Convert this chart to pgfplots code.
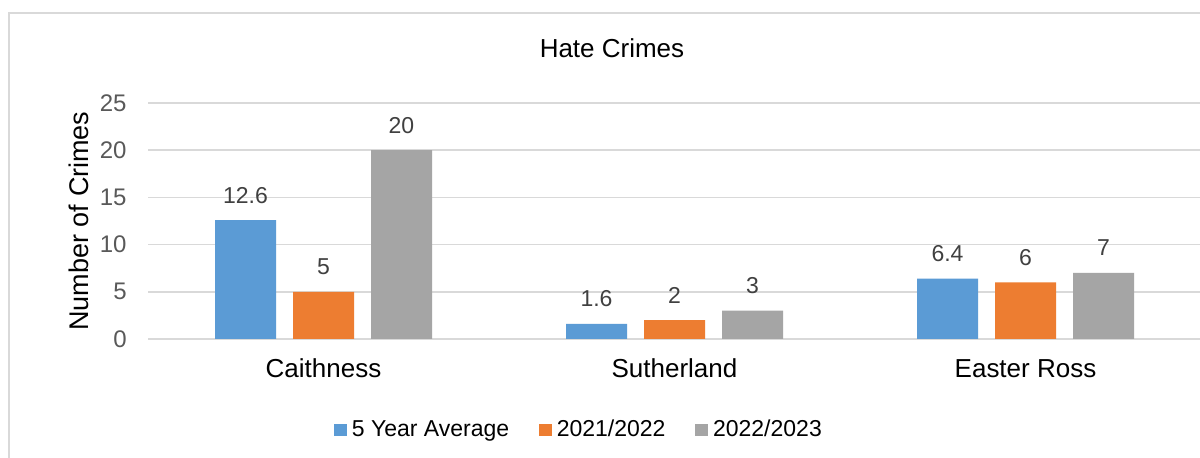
\documentclass[border=0pt]{standalone}
\usepackage{pgfplots}
\pgfplotsset{compat=1.18}
\usepackage{fontspec}
\setmainfont{Liberation Sans}

\definecolor{avgc}{HTML}{5B9BD5}
\definecolor{yrone}{HTML}{ED7D31}
\definecolor{yrtwo}{HTML}{A5A5A5}
\definecolor{gridc}{HTML}{D9D9D9}
\definecolor{tickc}{HTML}{595959}
\definecolor{labc}{HTML}{404040}

% square legend marker
\pgfplotsset{sqlegend/.style={legend image code/.code={\fill[##1] (0pt,-3.15pt) rectangle (6.3pt,3.15pt);}}}

\begin{document}
\begin{tikzpicture}[x=1pt,y=1pt]
  % white page and the chart frame (cut off at right and bottom)
  \fill[white] (0,0) rectangle (600,229);
  \draw[gridc, line width=1pt] (4.5,-10) rectangle (620,222.5);

  \node[anchor=base, font=\fontsize{13}{15}\selectfont] at (306,200) {Hate Crimes};
  \node[rotate=90, anchor=base, font=\fontsize{13.5}{16}\selectfont] at (44,118.5) {Number of Crimes};

  \begin{axis}[
    at={(74pt,59.5pt)}, anchor=south west,
    scale only axis,
    width=526.5pt, height=118pt,
    xmin=-0.5, xmax=2.5,
    ymin=0, ymax=25,
    ybar=8.5pt, bar width=30.5pt,
    xtick={0,1,2},
    xticklabels={Caithness,Sutherland,Easter Ross},
    ytick={0,5,10,15,20,25},
    ymajorgrids,
    grid style={gridc, line width=0.75pt},
    axis line style={draw=none},
    major tick length=0pt,
    /pgf/number format/assume math mode=true,
    xticklabel style={anchor=base, inner sep=0pt, yshift=-19.5pt,
      font=\fontsize{13}{15}\selectfont, text=black},
    yticklabel style={anchor=east, inner sep=0pt, xshift=-10.5pt,
      font=\fontsize{12}{14}\selectfont, text=tickc},
    nodes near coords,
    every node near coord/.append style={anchor=base, inner sep=0pt, yshift=8.5pt,
      font=\fontsize{11.5}{13}\selectfont, text=labc},
    legend columns=3,
    legend style={at={(0.4084,-0.385)}, anchor=center, draw=none, fill=none,
      font=\fontsize{11.5}{13}\selectfont,
      nodes={inner sep=0pt},
      /tikz/every odd column/.append style={column sep=2.5pt},
      /tikz/every even column/.append style={column sep=15pt}},
  ]
    \addplot[fill=avgc, draw=none, sqlegend]
      coordinates {(0,12.6) (1,1.6) (2,6.4)};
    \addlegendentry{5 Year Average}
    \addplot[fill=yrone, draw=none, sqlegend]
      coordinates {(0,5) (1,2) (2,6)};
    \addlegendentry{2021/2022}
    \addplot[fill=yrtwo, draw=none, sqlegend]
      coordinates {(0,20) (1,3) (2,7)};
    \addlegendentry{2022/2023}
  \end{axis}

  \pgfresetboundingbox
  \useasboundingbox (0,0) rectangle (600,229);
\end{tikzpicture}
\end{document}
